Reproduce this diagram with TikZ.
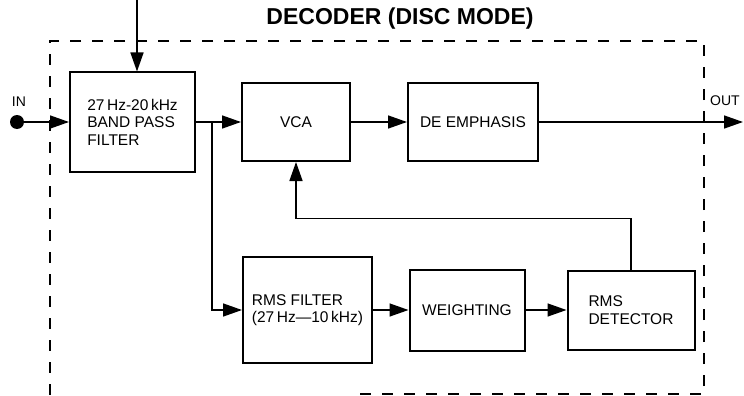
\documentclass[tikz,border=0pt]{standalone}
\usepackage{fontspec}
\setmainfont{Liberation Sans}
\usetikzlibrary{arrows.meta}

\begin{document}
\begin{tikzpicture}[x=1pt, y=-1pt, >={Triangle[length=19pt, width=13pt]},
    caja/.style={draw, line width=2pt, align=left, inner sep=0pt,
        font=\fontsize{15.5}{17.5}\selectfont},
    rotulo/.style={font=\fontsize{14}{16}\selectfont},
    linea/.style={line width=1.5pt}]

    \useasboundingbox (0,0) rectangle (744,396);

    % Marco punteado
    \draw[line width=2pt, dash pattern=on 11pt off 11pt]
        (360,394) -- (704,394) -- (704,41) -- (50,41) -- (50,396);
    \node[font=\bfseries\fontsize{23}{26}\selectfont] (titulo) at (400,19) {DECODER (DISC MODE)};

    % Bloques
    \node[caja, minimum width=125pt, minimum height=99pt] (bpf) at (132.5,122) {27\,Hz-20\,kHz\\BAND PASS\\FILTER};
    \node[caja, minimum width=108pt, minimum height=78pt] (vca) at (296,122) {VCA};
    \node[caja, minimum width=130pt, minimum height=78pt] (dee) at (473,122) {DE EMPHASIS};
    \node[caja, minimum width=129pt, minimum height=106pt] (rmsf) at (307.5,310) {RMS FILTER\\(27\,Hz---10\,kHz)};
    \node[caja, minimum width=115pt, minimum height=81pt] (wgt) at (467,310) {WEIGHTING};
    \node[caja, minimum width=127pt, minimum height=79pt] (det) at (631,310) {RMS\\DETECTOR};

    % Entrada y salida
    \node[circle, fill, inner sep=0pt, minimum size=14pt] (ent) at (17,122) {};
    \node[rotulo] (rotent) at (19,102) {IN};
    \coordinate (arriba) at (137,0);
    \coordinate (sal) at (743,122);
    \node[rotulo] (rotsal) at (725,101) {OUT};

    % Conexiones
    \draw[linea, ->] (ent) -- (bpf);
    \draw[linea, ->] (arriba) -- (arriba |- bpf.north);
    \draw[linea, ->] (bpf) -- (vca);
    \coordinate (nudo) at (212,122);
    \draw[linea, ->] (nudo) |- (rmsf.west);
    \draw[linea, ->] (vca) -- (dee);
    \draw[linea, ->] (dee) -- (sal);
    \draw[linea, ->] (rmsf) -- (wgt);
    \draw[linea, ->] (wgt) -- (det);

    % Realimentacion
    \draw[linea, ->] (det.north) -- ++(0,-51) -| (vca.south);

\end{tikzpicture}
\end{document}
